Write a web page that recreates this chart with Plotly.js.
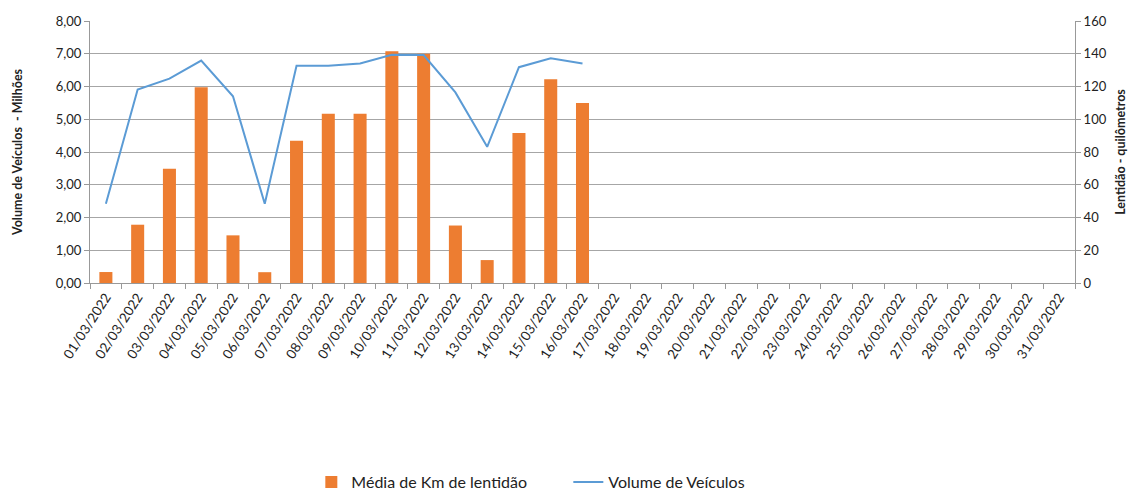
<!DOCTYPE html>
<html>
<head>
<meta charset="utf-8">
<script src="https://cdn.plot.ly/plotly-3.0.1.min.js"></script>
<style>html,body{margin:0;padding:0;background:#fff;}#chart{width:1128px;height:491px;}</style>
</head>
<body>
<div id="chart"></div>
<script>
const dates = [];
for (let d = 1; d <= 31; d++) dates.push((d < 10 ? '0' + d : '' + d) + '/03/2022');

// Média de Km de lentidão (km), right axis
const kmLentidao = [6.7, 35.6, 69.8, 119.6, 29.1, 6.6, 86.9, 103.4, 103.4, 141.5, 140.0, 35.1, 14.0, 91.6, 124.4, 110.0];
// Volume de Veículos (milhões), left axis
const volume = [2.42, 5.91, 6.24, 6.79, 5.70, 2.42, 6.63, 6.63, 6.70, 6.97, 6.96, 5.82, 4.16, 6.59, 6.86, 6.70];

const font = 'Lato, "Open Sans", sans-serif';

const traces = [
  {
    type: 'bar',
    name: 'Média de Km de lentidão',
    x: dates.slice(0, kmLentidao.length),
    y: kmLentidao,
    yaxis: 'y',
    marker: {color: '#ED7D31'},
    hoverinfo: 'x+y'
  },
  {
    type: 'scatter',
    mode: 'lines',
    name: 'Volume de Veículos',
    x: dates.slice(0, volume.length),
    y: volume,
    yaxis: 'y2',
    line: {color: '#5B9BD5', width: 2}
  }
];

const layout = {
  width: 1128,
  height: 491,
  margin: {l: 90, r: 53, t: 21, b: 208},
  paper_bgcolor: '#fff',
  plot_bgcolor: '#fff',
  font: {family: font, size: 12, color: '#222'},
  separators: ',.',
  bargap: 0.59,
  showlegend: true,
  legend: {
    orientation: 'h',
    xref: 'container', yref: 'container',
    x: 0.276, xanchor: 'left',
    y: 0.018, yanchor: 'middle',
    font: {family: font, size: 16, color: '#222'},
    itemwidth: 30,
    entrywidth: 212,
    tracegroupgap: 0
  },
  xaxis: {
    type: 'category',
    automargin: false,
    categoryorder: 'array',
    categoryarray: dates,
    tickvals: dates,
    range: [-0.5, 30.5],
    tickangle: -57,
    tickson: 'boundaries',
    ticks: 'outside',
    ticklen: 5,
    tickcolor: '#999',
    showline: true,
    linecolor: '#999',
    linewidth: 1,
    showgrid: false,
    tickfont: {family: font, size: 13.5, color: '#222'}
  },
  yaxis: {
    automargin: false,
    side: 'right',
    range: [0, 160],
    dtick: 20,
    tick0: 0,
    ticks: 'outside',
    ticklen: 5,
    tickcolor: '#999',
    showline: true,
    linecolor: '#999',
    showgrid: true,
    gridcolor: '#a6a6a6',
    zeroline: false,
    tickfont: {family: font, size: 13, color: '#222'},
    title: {text: '<b>Lentidão - quilômetros</b>', font: {family: font, size: 12.5, color: '#222'}, standoff: 14}
  },
  yaxis2: {
    automargin: false,
    overlaying: 'y',
    side: 'left',
    range: [0, 8],
    dtick: 1,
    tick0: 0,
    tickformat: '.2f',
    ticks: 'outside',
    ticklen: 5,
    tickcolor: '#999',
    showline: true,
    linecolor: '#999',
    showgrid: false,
    zeroline: false,
    tickfont: {family: font, size: 13, color: '#222'},
    title: {text: '<b>Volume de Veículos  - Milhões</b>', font: {family: font, size: 12.5, color: '#222'}, standoff: 30}
  }
};

Plotly.newPlot('chart', traces, layout, {displayModeBar: false, staticPlot: true});
</script>
</body>
</html>
